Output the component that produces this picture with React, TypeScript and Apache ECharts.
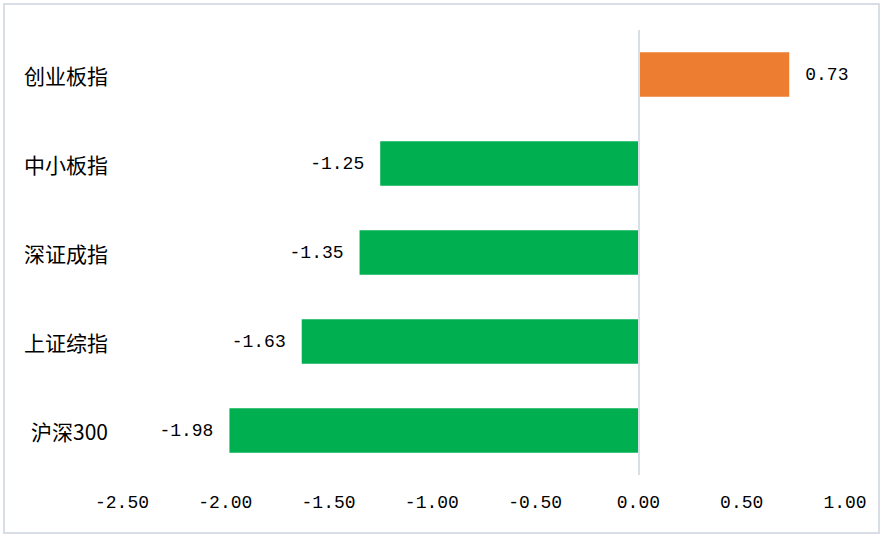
import React, { useEffect, useRef } from "react";
import * as echarts from "echarts";

const categories = ["沪深300", "上证综指", "深证成指", "中小板指", "创业板指"];
const values = [-1.98, -1.63, -1.35, -1.25, 0.73];
const xTicks = { min: -2.5, max: 1.0, interval: 0.5 };

const NUM_FONT = "'Liberation Mono', 'DejaVu Sans Mono', monospace";
const CJK_FONT = "'Noto Sans CJK SC', sans-serif";

export default function App() {
  const ref = useRef<HTMLDivElement>(null);
  useEffect(() => {
    document.body.style.margin = "0";
    const chart = echarts.init(ref.current!, null, { renderer: "svg" });
    chart.setOption({
      animation: false,
      backgroundColor: "#ffffff",
      graphic: [
        {
          type: "rect",
          shape: { x: 4, y: 4, width: 875, height: 529 },
          style: { fill: "none", stroke: "#d9dde6", lineWidth: 2 },
          silent: true,
        },
      ],
      grid: { left: 122, right: 38, top: 30, bottom: 62 },
      xAxis: {
        type: "value",
        min: xTicks.min,
        max: xTicks.max,
        interval: xTicks.interval,
        axisLine: { show: false },
        axisTick: { show: false },
        splitLine: { show: false },
        axisLabel: {
          margin: 19,
          color: "#000",
          fontFamily: NUM_FONT,
          fontSize: 18,
          formatter: (v: number) => v.toFixed(2),
        },
      },
      yAxis: {
        type: "category",
        data: categories,
        axisLine: { show: false, onZero: false },
        axisTick: { show: false },
        axisLabel: {
          margin: 14,
          color: "#000",
          fontFamily: CJK_FONT,
          fontSize: 21,
        },
      },
      series: [
        {
          type: "bar",
          barWidth: "50%",
          data: values.map((v) => ({
            value: v,
            itemStyle: { color: v >= 0 ? "#ED7D31" : "#00B050" },
            label: {
              show: true,
              position: v >= 0 ? "right" : "left",
              distance: 16,
              color: "#000",
              fontFamily: NUM_FONT,
              fontSize: 18,
              formatter: () => v.toFixed(2),
            },
          })),
          markLine: {
            silent: true,
            symbol: "none",
            label: { show: false },
            lineStyle: { color: "#d9dde6", width: 2, type: "solid" },
            data: [{ xAxis: 0 }],
          },
        },
      ],
    });
    return () => chart.dispose();
  }, []);
  return <div ref={ref} style={{ width: 883, height: 537 }} />;
}
